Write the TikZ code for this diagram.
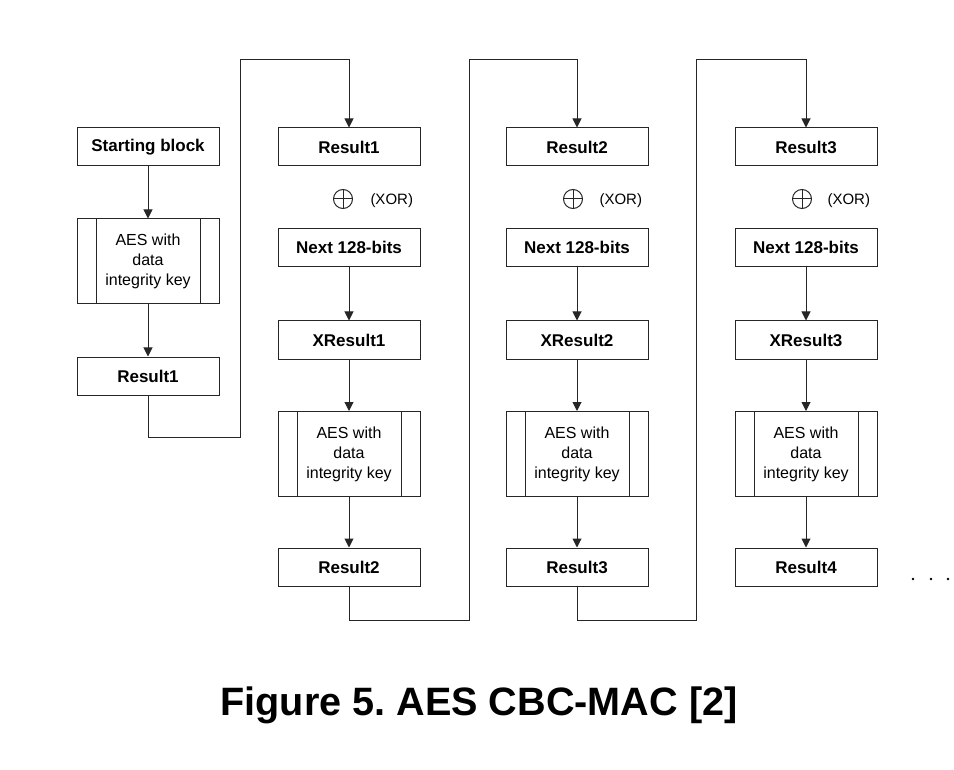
\documentclass[tikz,border=0pt]{standalone}
\usepackage{fontspec}
\setmainfont{Liberation Sans}
\usetikzlibrary{arrows.meta}
\newcommand{\blockWidth}{142pt}
\newcommand{\blockHeight}{38pt}
\newcommand{\aesHeight}{85pt}
\begin{document}
\frenchspacing
\begin{tikzpicture}[x=1pt, y=-1pt, line width=1pt, draw=black!85,
	block/.style={draw, minimum width=\blockWidth, minimum height=\blockHeight, inner sep=0pt, font=\bfseries\fontsize{17}{20}\selectfont},
	aesblock/.style={block, minimum height=\aesHeight, align=center, font=\fontsize{16}{20}\selectfont,
		path picture={\draw ([xshift=19pt]path picture bounding box.north west) -- ([xshift=19pt]path picture bounding box.south west);
			\draw ([xshift=-19pt]path picture bounding box.north east) -- ([xshift=-19pt]path picture bounding box.south east);}},
	xorsign/.style={draw, circle, minimum size=19pt, inner sep=0pt,
		path picture={\draw (path picture bounding box.north) -- (path picture bounding box.south);
			\draw (path picture bounding box.west) -- (path picture bounding box.east);}},
	xortext/.style={anchor=west, inner sep=0pt, font=\fontsize{15}{18}\selectfont},
	flow/.style={-{Triangle[length=9pt, width=9pt]}}]
	\useasboundingbox (0,0) rectangle (954,770);
		%first block
		\node[block] (start) at (148,147) {Starting block};
		\node[aesblock] (aes0) at (148,261.5) {AES with\\data\\integrity key};
		\node[block] (res1a) at (148,376) {Result1};
		%column 2
		\node[block] (res1b) at (349,147) {Result1};
		\node[xorsign] (xor1) at (343,199) {};
		\node[xortext] (xorlbl1) at (370,201) {(XOR)};
		\node[block] (next1) at (349,247.5) {Next 128-bits};
		\node[block] (xres1) at (349,340) {XResult1};
		\node[aesblock] (aes1) at (349,454) {AES with\\data\\integrity key};
		\node[block] (res2a) at (349,567) {Result2};
		%column 3
		\node[block] (res2b) at (577,147) {Result2};
		\node[xorsign] (xor2) at (573,199) {};
		\node[xortext] (xorlbl2) at (599,201) {(XOR)};
		\node[block] (next2) at (577,247.5) {Next 128-bits};
		\node[block] (xres2) at (577,340) {XResult2};
		\node[aesblock] (aes2) at (577,454) {AES with\\data\\integrity key};
		\node[block] (res3a) at (577,567) {Result3};
		%column 4
		\node[block] (res3b) at (806,147) {Result3};
		\node[xorsign] (xor3) at (802,199) {};
		\node[xortext] (xorlbl3) at (827,201) {(XOR)};
		\node[block] (next3) at (806,247.5) {Next 128-bits};
		\node[block] (xres3) at (806,340) {XResult3};
		\node[aesblock] (aes3) at (806,454) {AES with\\data\\integrity key};
		\node[block] (res4) at (806,567) {Result4};
		\foreach \d [count=\i] in {913,931,948}
			\fill (\d,579) circle (1.3pt) coordinate (dot\i);
		%arrows
		\draw[flow] (start) -- (aes0);
		\draw[flow] (aes0) -- (res1a);
		\draw[flow] (res1a.south) |- (240,437) -- (240,60) -| (res1b);
		\draw[flow] (next1) -- (xres1);
		\draw[flow] (xres1) -- (aes1);
		\draw[flow] (aes1) -- (res2a);
		\draw[flow] (res2a.south) |- (469,620) -- (469,60) -| (res2b);
		\draw[flow] (next2) -- (xres2);
		\draw[flow] (xres2) -- (aes2);
		\draw[flow] (aes2) -- (res3a);
		\draw[flow] (res3a.south) |- (696,620) -- (696,60) -| (res3b);
		\draw[flow] (next3) -- (xres3);
		\draw[flow] (xres3) -- (aes3);
		\draw[flow] (aes3) -- (res4);
		\node[anchor=base, inner sep=0pt, font=\bfseries\fontsize{39.6}{48}\selectfont] (caption) at (479,715) {Figure 5. AES CBC-MAC [2]};
\end{tikzpicture}
\end{document}
